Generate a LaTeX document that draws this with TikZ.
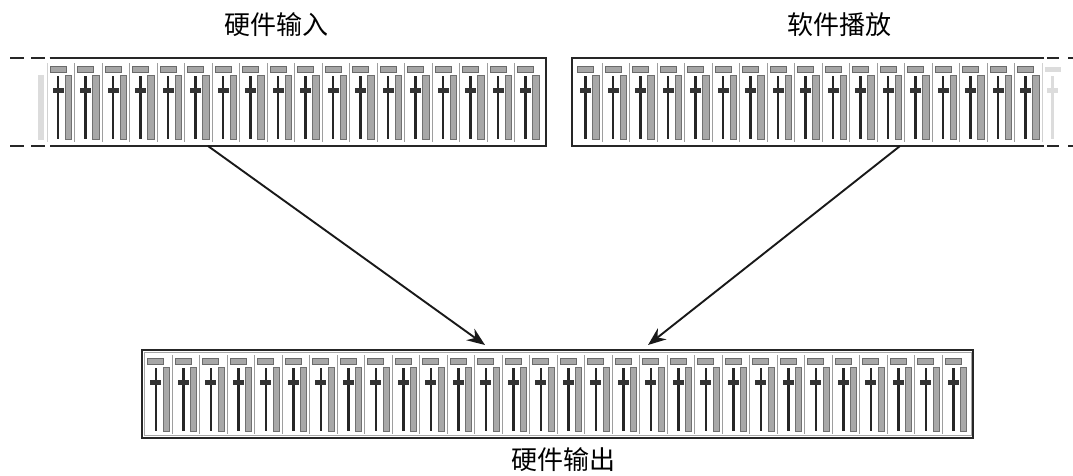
\documentclass[tikz,border=0pt]{standalone}
\usepackage{fontspec}
\newfontfamily\cjk{Noto Sans CJK SC}
\usetikzlibrary{arrows.meta}
\definecolor{lblgray}{HTML}{A6A6A6}
\definecolor{lbldark}{HTML}{6A6A6A}
\definecolor{bargray}{HTML}{A8A8A8}
\definecolor{bardark}{HTML}{707070}
\definecolor{fadegray}{HTML}{DCDCDC}
\begin{document}
\begin{tikzpicture}[x=1pt,y=-1pt,
  lbl/.style={fill=lblgray, draw=lbldark, line width=0.8pt},
  bar/.style={fill=bargray, draw=bardark, line width=0.8pt},
  fader/.style={line width=2.4pt, draw=black!85},
  knob/.style={fill=black!80},
  divider/.style={draw=black!38, line width=0.9pt},
  faintdiv/.style={draw=black!18, line width=0.9pt},
  frame/.style={line width=2.2pt, draw=black!85},
  boxarea/.style={inner sep=0pt, outer sep=0pt, minimum height=88pt},
  title/.style={font=\cjk\fontsize{26}{30}\selectfont, inner sep=0pt},
  link/.style={-{Stealth[length=18pt,width=14pt]}, line width=1.9pt, draw=black!90},
  strip/.pic={
    \path[lbl] (3,8.5) rectangle (19,14);
    \path[bar] (18.2,17) rectangle (24.5,81.5);
    \draw[fader] (11,18) -- (11,81);
    \path[knob] (5.5,29.6) rectangle (16.5,34.6);
  },
  fadebar/.pic={
    \path[fill=fadegray] (18.2,17) rectangle (24.5,81.5);
  },
  fadetop/.pic={
    \path[fill=fadegray] (3,8.5) rectangle (19,14);
    \draw[line width=2.4pt, draw=fadegray] (11,18) -- (11,81);
    \path[fill=fadegray] (5.5,29.6) rectangle (16.5,34.6);
  }
]
\useasboundingbox (0,0) rectangle (1073,475);

% ---------- box areas ----------
\node[boxarea, minimum width=499pt] (inbox) at (296.5,102) {};
\node[boxarea, minimum width=472.3pt] (playbox) at (807.85,102) {};
\node[boxarea, minimum width=831.6pt] (outbox) at (557.5,394) {};

% ---------- hardware input (left, open on its left side) ----------
\pic at (19.5,58) {fadebar};
\foreach \k in {0,...,17} \pic at ({47+27.5*\k},58) {strip};
\draw[faintdiv] (47,63) -- (47,142);
\foreach \k in {1,...,17} \draw[divider] ({47+27.5*\k},63) -- ++(0,79);
\draw[frame] ([xshift=2.5pt]inbox.north west) -- (inbox.north east)
  -- (inbox.south east) -- ([xshift=2.5pt]inbox.south west);
\draw[frame, dash pattern=on 14pt off 7pt] (10,58) -- (45,58);
\draw[frame, dash pattern=on 14pt off 7pt] (10,146) -- (45,146);

% ---------- software playback (right, open on its right side) ----------
\foreach \k in {0,...,16} \pic at ({574.5+27.5*\k},58) {strip};
\foreach \k in {1,...,16} \draw[divider] ({574.5+27.5*\k},63) -- ++(0,79);
\draw[faintdiv] (1042,63) -- (1042,142);
\pic at (1041.5,58) {fadetop};
\draw[frame] (playbox.north east) -- (playbox.north west)
  -- (playbox.south west) -- (playbox.south east);
\draw[frame, dash pattern=on 12pt off 9pt] (1047,58) -- (1073,58);
\draw[frame, dash pattern=on 12pt off 9pt] (1047,146) -- (1073,146);

% ---------- hardware output (bottom) ----------
\foreach \k in {0,...,29} \pic at ({144.8+27.5*\k},350) {strip};
\foreach \k in {1,...,29} \draw[divider] ({144.8+27.5*\k},355) -- ++(0,79);
\draw[frame] (outbox.north west) rectangle (outbox.south east);
\draw[draw=black!35, line width=0.8pt] ([xshift=2.4pt,yshift=-2.4pt]outbox.north west)
  rectangle ([xshift=-2.4pt,yshift=2.4pt]outbox.south east);

% ---------- titles ----------
\node[title] (tin) at (276,25) {硬件输入};
\node[title] (tplay) at (839,25) {软件播放};
\node[title] (tout) at (563,460) {硬件输出};

% ---------- connectors ----------
\coordinate (s1) at (208,146);
\coordinate (e1) at (485,345);
\coordinate (s2) at (900,146);
\coordinate (e2) at (648,345);
\draw[link] (s1) -- (e1);
\draw[link] (s2) -- (e2);
\end{tikzpicture}
\end{document}
